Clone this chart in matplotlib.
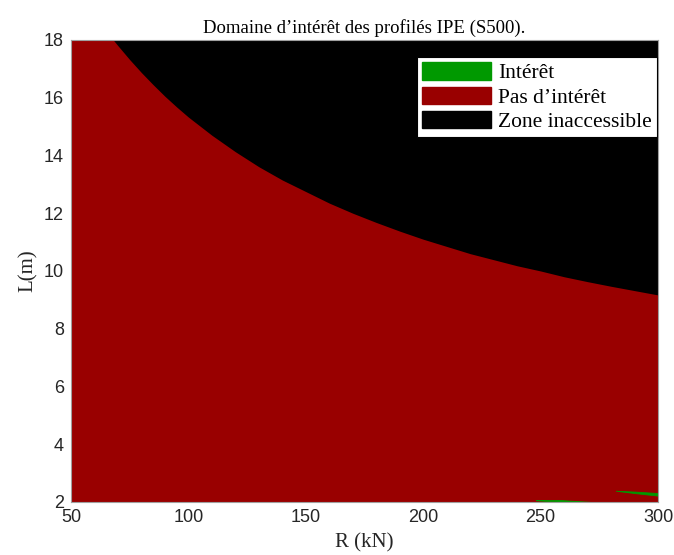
import matplotlib
matplotlib.use('Agg')
import matplotlib.pyplot as plt
from matplotlib.patches import Patch
import numpy as np

# boundary between accessible (red) and inaccessible (black) zones
R_limit = [68, 70, 75, 80, 85, 90, 95, 100, 110, 120, 130, 140, 150, 160, 170,
           180, 190, 200, 210, 220, 230, 240, 250, 260, 270, 280, 290, 300]
L_limit = [18.0, 17.8, 17.32, 16.87, 16.45, 16.05, 15.68, 15.33, 14.7, 14.13,
           13.61, 13.15, 12.75, 12.35, 12.0, 11.68, 11.38, 11.1, 10.85, 10.6,
           10.39, 10.18, 10.0, 9.8, 9.63, 9.47, 9.32, 9.17]

# thin "interet" slivers near the bottom
R_green1 = [248, 258, 272]
L_green1_lo = [2.06, 2.01, 2.0]
L_green1_hi = [2.07, 2.07, 2.0]
R_green2 = [282, 290, 300]
L_green2_lo = [2.39, 2.31, 2.22]
L_green2_hi = [2.39, 2.36, 2.31]

R_min, R_max = 50, 300
L_min, L_max = 2, 18

red = '#990000'
green = '#009900'
black = '#000000'

serif = 'Liberation Serif'
sans = 'Liberation Sans'

fig = plt.figure(figsize=(6.74, 5.55), dpi=100)
ax = fig.add_axes([0.1053, 0.0955, 0.8710, 0.8325])

# background: inaccessible everywhere, then accessible region below the limit
ax.fill_between([R_min, R_max], L_min, L_max, color=black, linewidth=0)
R_fill = [R_min] + R_limit
L_fill = [L_max] + L_limit
ax.fill_between(R_fill, L_min, L_fill, color=red, linewidth=0)

ax.fill_between(R_green1, L_green1_lo, L_green1_hi, color=green, linewidth=0.6,
                edgecolor=green)
ax.fill_between(R_green2, L_green2_lo, L_green2_hi, color=green, linewidth=0.6,
                edgecolor=green)

ax.set_xlim(R_min, R_max)
ax.set_ylim(L_min, L_max)
ax.set_xticks(np.arange(50, 301, 50))
ax.set_yticks(np.arange(2, 19, 2))
ax.tick_params(direction='in', length=0, labelsize=13, colors='#262626', pad=5)
for lab in ax.get_xticklabels() + ax.get_yticklabels():
    lab.set_family(sans)
for s in ax.spines.values():
    s.set_color('#a0a0a0')
    s.set_linewidth(0.8)

ax.set_title('Domaine d\u2019intérêt des profilés IPE (S500).', family=serif,
             fontsize=13.5, pad=5)
ax.set_xlabel('R (kN)', family=serif, fontsize=15, labelpad=5, color='#262626')
ax.set_ylabel('L(m)', family=serif, fontsize=15, labelpad=4, color='#262626')

handles = [Patch(facecolor=green, edgecolor=green),
           Patch(facecolor=red, edgecolor=red),
           Patch(facecolor=black, edgecolor=black)]
labels = ['Intérêt', 'Pas d\u2019intérêt', 'Zone inaccessible']
leg = ax.legend(handles, labels, loc='upper right', bbox_to_anchor=(0.998, 0.963),
                prop={'family': serif, 'size': 15.5}, frameon=True, fancybox=False,
                edgecolor='black', framealpha=1, handlelength=3.2, handleheight=0.85,
                handletextpad=0.3, borderpad=0.25, labelspacing=0.15,
                borderaxespad=0.0)
leg.get_frame().set_linewidth(0.8)

fig.savefig('out.png', dpi=100)
